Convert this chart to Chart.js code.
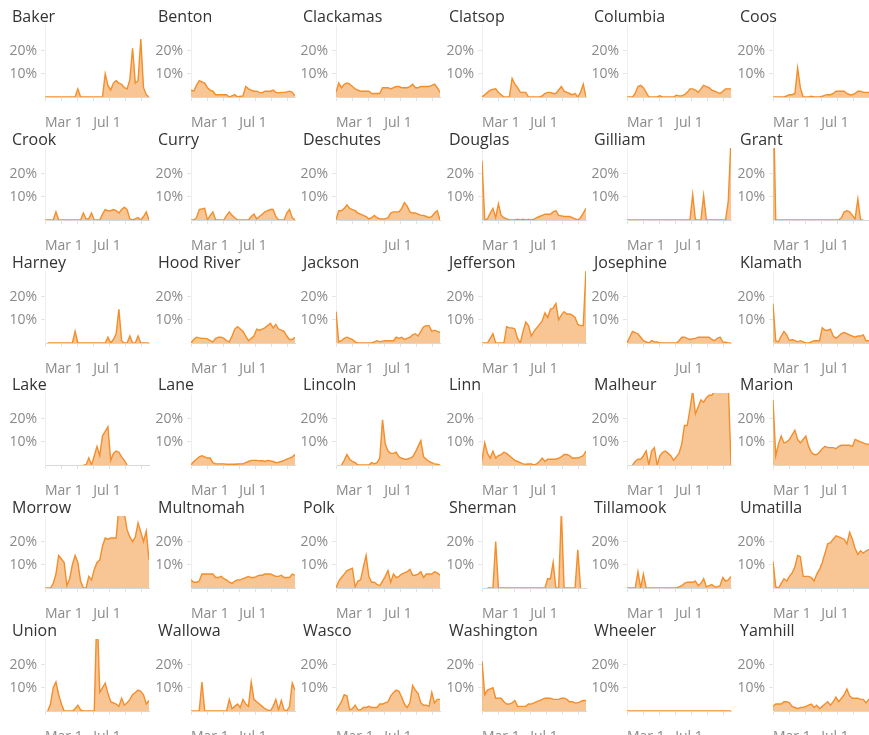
<!DOCTYPE html>
<html>
<head>
<meta charset="utf-8">
<script src="https://cdn.jsdelivr.net/npm/chart.js@4/dist/chart.umd.min.js"></script>
<style>
html, body { margin: 0; padding: 0; background: #fff; overflow: hidden; width: 869px; height: 735px; }
#grid { position: relative; width: 869px; height: 735px; }
#grid canvas { position: absolute; }
</style>
</head>
<body>
<div id="grid"></div>
<script>
// weekly positivity (%) per county, week 0 = start of March
const weeks = [0,1,2,3,4,5,6,7,8,9,10,11,12,13,14,15,16,17,18,19,20,21,22,23,24,25,26,27,28,29,30,31,32,33,34,35,36,37,38];
const tickLabels = ['Mar 1', 'Jul 1'];
const tickWeeks = [0, 17.6];
const yTicks = [10, 20];

const counties = ['Baker','Benton','Clackamas','Clatsop','Columbia','Coos',
  'Crook','Curry','Deschutes','Douglas','Gilliam','Grant',
  'Harney','Hood River','Jackson','Jefferson','Josephine','Klamath',
  'Lake','Lane','Lincoln','Linn','Malheur','Marion',
  'Morrow','Multnomah','Polk','Sherman','Tillamook','Umatilla',
  'Union','Wallowa','Wasco','Washington','Wheeler','Yamhill'];
const noMarLabel = ['Deschutes', 'Josephine'];

const baker = [0,0,0,0,0,0,0,0,0,0,0,0,3.5,0,0,0,0,0,0,0,0,0,10,5,3,6,7,6,5.5,4,3.5,7.5,21,6,7,25,4,1,0];
const benton = [3,2.5,5,7,6.5,6,4,3,2.5,1,1,1,1,1,0,0.5,1,0,0.3,0.5,4.5,3.5,3,2.5,2.5,2,1.8,2.5,2.5,2.5,3,2,1.8,2,2,2.2,2.5,2,0.5];
const clackamas = [2,6,4,5.5,6,5.5,4.5,3.5,3,2.5,2.5,2.5,2.5,1.5,1.5,1.5,1.5,4,4,4,3.5,4,4.5,4.5,4,4,4,4.5,5.5,4,4,4.5,4.5,4.5,4.5,5,5.5,4,2];
const clatsop = [0,1,2,3,3.3,3.5,2,1,0,0,0,8,5.5,4,2,2,2,0,0,0,0,0,0.5,1.5,2,2,1.5,1.5,3,4.5,2.5,2,1.5,1,1.5,0,2,5.5,0];
const columbia = [0,0,0,1.5,4.5,5,4,2,0,0,0,0,0.5,0,0,0,0,0,0.8,0.5,0.5,1,2,3.5,3.5,3,2,3.5,5,4.5,4,3,2.5,2,1.5,2.5,3.5,3.5,3.5];
const coos = [0,0,0,0,0,0.5,1,1,1.5,12.5,4,0,0,0,0.3,0,0,0,0.3,0.8,1,1,1.5,2.5,2.5,2.5,2.5,1.5,1,1,1.5,2.5,2.5,2,2,2,2,2,2];
const crook = [0,0,0,0,3.5,0,0,0,0,0,0,0,0,0,3,0.5,0.5,3,0,0,0,2.5,4.5,4,4,4.5,4,3,4.5,5.5,4.5,0.5,0,0.5,1,0,1.5,3.5,0];
const curry = [0,0,1,4.5,4.8,5,0,2,3.5,0,0,0,0,2,3.5,2,1,0,0,0,0,0,1.5,2.5,0.5,1.5,2.5,3.5,4,4.5,4.5,1.5,0,0,0,3,4.5,1,0];
const deschutes = [0,4,4,5,6.5,5,4.5,4,3,2.5,2,1.5,0.5,1,2,1,0.5,0.5,0.5,1,3,3.5,3.5,3.5,5,7.5,6,3.5,3,3,2.5,2,2,1.5,1,1.5,3,4,0];
const douglas = [25.5,0,0.5,3,5,1,7,2,1,0.5,0,0,0,0.3,0,0.3,0,0.2,0,0.3,1,1.5,2,2.5,2.5,2.5,3.5,4,2,1.8,1.5,1.5,1.5,1,0.5,0,1,3,5];
const gilliam = [0,0,0,0,0,0,0,0,0,0,0,0,0,0,0,0,0,0,0,0,0,0,0,0,11,0,0,0,10.5,0,0,0,0,0,0,0,0,8,35];
const grant = [60,0,0,0,0,0,0,0,0,0,0,0,0,0,0,0,0,0,0,0,0,0,0,0,0,1,3.5,4,3.5,2,0.5,9,0,0,null,null,null,null,null];
const harney = [null,0,0,0,0,0,0,0,0,0,0,5,0,0,0,0,0,0,0,0,0,0,0,2.5,0,1.5,4,14.5,1,0,0,3,0,0,3,0,0,0,0];
const hoodRiver = [0,1.5,2.5,2.2,2,2,1.8,1,0.5,2,2.5,2.5,2,1,0.5,3,6,7,6,5,3,1,2,3,6,5.5,6,6.5,7.5,8.5,6.5,8,6,5.5,5,3,1.5,1.5,2.5];
const jackson = [13.5,0.5,1,2,2.5,2,1.5,0.5,0,0,0,0,0,0,0.5,1,0.5,0.8,1,1,1,1,2.5,2,2.5,1.5,2,2.5,3.5,4,3,5,7,7.5,7.5,5,5.5,5,4.5];
const jefferson = [0,0,0,2,4,0,0,0,0,7,6.5,6.5,6,2,0,5,9,7.5,3,5,6.5,8,9.5,13,11,14.5,15,17,10,12,13.5,12.5,12.5,12,11,8,7.5,7.5,32];
const josephine = [0,2.5,5,4.5,4,2.5,1,0.5,0,1,0.5,0.5,0,0,0,0,0,0,0,1,2.5,2.5,2,1.5,1.8,2,2.5,2.5,2.5,2.5,2.5,1.5,1,2,2.5,0.5,0.3,0,0];
const klamath = [17,1,0.5,3,5,3.5,1,1.5,1,0.5,1,0.5,0,0,0.5,1,1,1,6.5,5.5,5.5,6,3,2,3,4,4.5,4,3.5,3,2.5,3,3,3.5,1,1,1,1,1];
const lake = [null,null,null,null,null,null,null,null,null,null,null,null,null,null,0,0,3,0,4,8,4,12.5,14.5,16.5,2,5,6,5.5,3.5,2,0,null,null,null,null,null,null,null,null];
const lane = [0,1.5,2.5,3.5,4,3.5,3,3,1,0.5,0.5,0.5,0.5,0.3,0.3,0.3,0.3,0.4,0.5,0.5,1,1.5,2,2,2,1.8,1.8,1.5,2,1.8,1.5,1,1.2,1.5,2,2.5,3,3.5,4.5];
const lincoln = [null,null,0,2,4.5,2.5,1.5,1,0,0,0,0,0,1,0.5,1,3,19.5,9,6,5,5,5.5,3.5,3,2.5,2.5,3,3.5,5.5,8,10.5,3.5,2.5,1.5,1,0.5,0.3,0];
const linn = [2,9.5,5,3,6,3,4,4.5,5.5,5,4,3,2,1.5,1,0.5,0.3,0.4,0.5,0,0.5,1.5,3,1.5,2.5,2.5,2.5,2.5,3,3.5,4.5,4.5,4,3,3,3,3.5,4,6];
const malheur = [null,null,0,1.5,2.5,2.5,4,6,0,6,7.5,0,4,5.5,6,5,4,2,3.5,5,9,17,17,24,32,22,25,28,27,29,30,30,32,33,34,35,35,35,0];
const marion = [28,4,9,12.5,9.5,10,11,13,15,11,9.5,11,12.5,8,5.5,4.5,4.5,5.5,7,8,7.5,7.5,7.5,7,8,8.5,8.5,8.5,8.5,8,11,10.5,10,9.5,9,9,9,9,9];
const morrow = [0,0,0,2,6,14,12.5,11,1,4,10,14,11,3,0,0,5,3.5,8,11,12,18,21.5,21,21.5,21.5,21.5,35,35,32,25,22,20,22,28,24,20,24.5,12];
const multnomah = [3.5,2.5,2.5,3,6,6,6,6,6,4.5,4.5,5,4,3.5,2.5,2,3,3.5,3.5,4,4.5,5,4.5,4.5,5,5.5,5.5,6,6,6,5.5,5,5,5.5,4.5,4.5,4.5,6,5.5];
const polk = [0,3,4.5,6,7.5,8,8.5,0.5,3,3.5,9,14,5,2.5,2.5,1.5,1,3,5,7.5,2.5,6,4.5,5,6,6.5,7,8,5.5,5.5,6,7,4.5,6,6,6,7,6.5,5.5];
const sherman = [null,null,0,0,0,20,0,0,0,0,0,0,0,0,0,0,0,0,0,0,0,0,0,0,4,4,11,0,0,33,0,0,0,0,0,16.5,0,null,null];
const tillamook = [0,0,0,0,7,0,6,0,0,0,0,0,0,0,0,0,0,0,0,0.5,1,2,2.5,2.5,2.5,3,1,2,4,0.5,1,1.5,0.5,0.5,1,4.5,3,3.5,5];
const umatilla = [11.5,0.5,0,2,4,3,5,6.5,9,14,13.5,5,5,5,4.5,3,6,8,11,15,19,19.5,21,22.5,22,21.5,21,19,24,21,17,14.5,16,15,16,16.5,17,17,17];
const union = [null,0,3,10,12.5,7,3,0,0,0,0,1,2.5,0.5,0,0,0,0,0,45,8,10,12,7.5,4,3.5,3,2,5.5,2.5,3.5,5,7,8,9,8.5,7,3,4.5];
const wallowa = [0,0,0,0,12.5,0,0,0,0,0,0,0,0,0,5,1,2,3,1.5,5,3,2,12.5,5,4,3,2,1,0.5,0,2,5,0.5,4.5,0.5,0,2,12,9];
const wasco = [0,2,4,7,6.5,0.5,1,2.5,0.5,0.5,1.5,1.5,2,1.5,1.5,1.5,3,3,3.5,4,6.5,8,9,8.5,6,3,1.5,3.5,11,9,7.5,3.5,2.5,2.5,2,8,3.5,5,5];
const washington = [21.5,7,9,9.5,10,5.5,5.5,5.5,4,3,3,3.5,4.5,2,2,2,2,3,3,3.5,4,4.5,5,5.5,5.5,5.5,5,5,5,5.5,5.5,5,4,4,3.5,3.5,4,4.5,4.5];
const wheeler = [0,0,0,0,0,0,0,0,0,0,0,0,0,0,0,0,0,0,0,0,0,0,0,0,0,0,0,0,0,0,0,0,0,0,0,0,0,0,0];
const yamhill = [2,3,3,3,4,4,3.5,2,1.5,1,1.5,1.5,2,2.5,3,1.5,2.5,1,2,3,4,2.5,4,6,4,5.5,7,9.5,6.5,5.5,5.5,5.5,5,5,3.5,5,5,5,5];

const series = [baker, benton, clackamas, clatsop, columbia, coos,
  crook, curry, deschutes, douglas, gilliam, grant,
  harney, hoodRiver, jackson, jefferson, josephine, klamath,
  lake, lane, lincoln, linn, malheur, marion,
  morrow, multnomah, polk, sherman, tillamook, umatilla,
  union, wallowa, wasco, washington, wheeler, yamhill];

const ORANGE = '#f28e2b';
const FILL = 'rgba(242,142,43,0.5)';
const LABEL = '#8a8a8a';
const FONT = '"Open Sans", sans-serif';

const minorStep = tickWeeks[1] / 3;
const xTickValues = [];
for (let v = 0; v <= 38; v += minorStep) xTickValues.push(Math.round(v * 100) / 100);

const panelTitle = {
  id: 'panelTitle',
  afterDraw(chart, args, opts) {
    const ctx = chart.ctx;
    ctx.save();
    ctx.font = '16px ' + FONT;
    ctx.fillStyle = '#333333';
    ctx.textBaseline = 'middle';
    ctx.fillText(opts.text, 12, 17);
    ctx.restore();
  }
};

function xLabel(value, name) {
  const i = tickWeeks.findIndex(t => Math.abs(t - value) < 0.05);
  if (i < 0) return '';
  if (i === 0 && noMarLabel.includes(name)) return '';
  return tickLabels[i];
}

function buildPanel(name, values, idx) {
  const col = idx % 6;
  const row = Math.floor(idx / 6);
  const canvas = document.createElement('canvas');
  canvas.width = 152;
  canvas.height = 136;
  canvas.style.left = Math.round(col * 145.6) + 'px';
  canvas.style.top = Math.round(row * 122.8) + 'px';
  document.getElementById('grid').appendChild(canvas);

  new Chart(canvas.getContext('2d'), {
    type: 'line',
    data: {
      datasets: [{
        data: values.map((v, i) => ({ x: weeks[i], y: v })),
        borderColor: ORANGE,
        backgroundColor: FILL,
        borderWidth: 1.4,
        pointRadius: 0,
        fill: 'origin',
        tension: 0
      }]
    },
    options: {
      responsive: false,
      animation: false,
      events: [],
      layout: { padding: { top: 25, right: 3, left: 0, bottom: 0 } },
      plugins: {
        legend: { display: false },
        tooltip: { enabled: false },
        panelTitle: { text: name }
      },
      scales: {
        x: {
          type: 'linear',
          min: 0,
          max: 38,
          afterFit: s => { s.height = 39; },
          afterBuildTicks: s => { s.ticks = xTickValues.map(v => ({ value: v })); },
          ticks: {
            autoSkip: false,
            maxRotation: 0,
            align: 'start',
            padding: 4,
            color: LABEL,
            font: { family: FONT, size: 14, lineHeight: 2.6 },
            callback: v => xLabel(v, name)
          },
          grid: { drawOnChartArea: false, tickLength: 4, color: '#e2e2e2' },
          border: { color: '#d8d8d8' }
        },
        y: {
          min: 0,
          max: 31,
          afterFit: s => { s.width = 45; },
          afterBuildTicks: s => { s.ticks = yTicks.map(v => ({ value: v })); },
          ticks: {
            padding: 4,
            color: LABEL,
            font: { family: FONT, size: 14 },
            callback: v => v + '%'
          },
          grid: { drawOnChartArea: false, tickLength: 4, color: '#e6e6e6' },
          border: { color: '#efefef' }
        }
      }
    },
    plugins: [panelTitle]
  });
}

counties.forEach((name, i) => buildPanel(name, series[i], i));
</script>
</body>
</html>
